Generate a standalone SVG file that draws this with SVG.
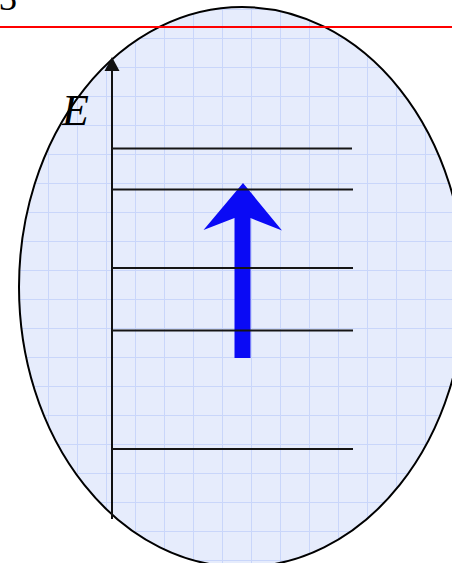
<svg xmlns="http://www.w3.org/2000/svg" width="452" height="563" viewBox="0 0 452 563">
  <style>
    .level { stroke: #151515; stroke-width: 2; fill: none; }
    .axis { stroke: #111111; stroke-width: 2; fill: none; }
    .serif { font-family: "Liberation Serif", "DejaVu Serif", serif; fill: #000000; }
  </style>
  <defs>
    <pattern id="grid" patternUnits="userSpaceOnUse" x="19" y="9" width="29" height="29">
      <rect x="0" y="0" width="29" height="29" fill="#e6ecfc"/>
      <path d="M0 0.5 H29 M0.5 0 V29" stroke="#c9d6fa" stroke-width="1" fill="none"/>
    </pattern>
    <marker id="axisHead" markerWidth="16" markerHeight="14" refX="8" refY="0" orient="auto" markerUnits="userSpaceOnUse" viewBox="0 0 16 14">
      <polygon points="8,0 16,14 0,14" fill="#111111"/>
    </marker>
  </defs>
  <rect width="452" height="563" fill="#ffffff"/>

  <g id="cell">
    <ellipse cx="242" cy="287" rx="223" ry="280" fill="url(#grid)" stroke="#000000" stroke-width="2"/>
  </g>

  <g id="cut-label">
    <text class="serif" x="-1" y="10" font-size="36">3</text>
  </g>

  <g id="boundary">
    <line x1="0" y1="27" x2="452" y2="27" stroke="#ff0000" stroke-width="2"/>
  </g>

  <g id="connectors">
    <line class="axis" x1="112" y1="519" x2="112" y2="70"/>
    <polygon points="112,57 119.5,71 104.5,71" fill="#111111"/>
    <polygon points="243,183 282,230.5 250.5,218 250.5,358 234.5,358 234.5,218 203.5,230" fill="#0a0af5"/>
  </g>

  <g id="energy-label">
    <text class="serif" x="62" y="125" font-size="44" font-style="italic">E</text>
  </g>

  <g id="levels">
    <line class="level" x1="112" y1="148.5" x2="352" y2="148.5"/>
    <line class="level" x1="112" y1="189.5" x2="353" y2="189.5"/>
    <line class="level" x1="112" y1="268" x2="353" y2="268"/>
    <line class="level" x1="112" y1="330.5" x2="353" y2="330.5"/>
    <line class="level" x1="112" y1="449" x2="353" y2="449"/>
  </g>
</svg>
